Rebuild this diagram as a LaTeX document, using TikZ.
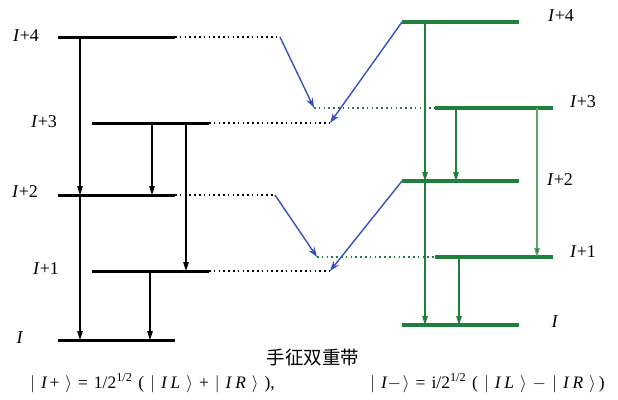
\documentclass[tikz,border=0pt]{standalone}
\usepackage{fontspec}
\setmainfont{Liberation Serif}
\newfontfamily\cjk{Noto Sans CJK SC}
\usetikzlibrary{arrows.meta}
\definecolor{lvgreen}{RGB}{30,128,60}
\definecolor{lvlight}{RGB}{100,160,110}
\definecolor{lvblue}{RGB}{55,80,190}
\newcommand\mygap{\hspace{6pt}}
\tikzset{
  x=1pt, y=-1pt,
  blev/.style={line width=3pt, black},
  glev/.style={line width=3.2pt, lvgreen},
  barr/.style={line width=1.1pt, black, -{Triangle[length=9pt,width=5.5pt]}},
  garr/.style={line width=1.1pt, lvgreen, -{Triangle[length=9pt,width=5.5pt]}},
  larr/.style={line width=1.1pt, lvlight, -{Triangle[length=9pt,width=5.5pt,fill=lvgreen]}},
  bdot/.style={line width=1.3pt, black, dash pattern=on 1.6pt off 3.2pt},
  gdot/.style={line width=1.3pt, lvgreen, dash pattern=on 1.6pt off 3.2pt},
  blue/.style={line width=1.4pt, lvblue, -{Stealth[length=10pt,width=7pt]}},
  lab/.style={font=\fontsize{18}{18}\selectfont, inner sep=0pt},
  frm/.style={font=\fontsize{17.5}{17.5}\selectfont, inner sep=0pt, anchor=west},
}
\begin{document}
\begin{tikzpicture}
\useasboundingbox (0,0) rectangle (618,399);
% left levels
\coordinate (A4l) at (58,37);  \coordinate (A4r) at (175,37);
\coordinate (A3l) at (92,123); \coordinate (A3r) at (209,123);
\coordinate (A2l) at (58,195); \coordinate (A2r) at (175,195);
\coordinate (A1l) at (92,271); \coordinate (A1r) at (209,271);
\coordinate (A0l) at (58,340); \coordinate (A0r) at (175,340);
% right levels
\coordinate (B4l) at (402,22);  \coordinate (B4r) at (519,22);
\coordinate (B3l) at (435,108); \coordinate (B3r) at (553,108);
\coordinate (B2l) at (402,181); \coordinate (B2r) at (519,181);
\coordinate (B1l) at (435,257); \coordinate (B1r) at (553,257);
\coordinate (B0l) at (402,325); \coordinate (B0r) at (519,325);
% dotted ends
\coordinate (D4) at (280,37);
\coordinate (D3) at (330,123);
\coordinate (D2) at (275,195);
\coordinate (D1) at (330,271);
\coordinate (E3) at (314,108);
\coordinate (E1) at (317,257);
% arrow columns
\coordinate (c1) at (80,0);
\coordinate (c2) at (152,0);
\coordinate (c3) at (186,0);
\coordinate (c4) at (150,0);
\coordinate (g1) at (425,0);
\coordinate (g2) at (456,0);
\coordinate (g3) at (537,0);
\coordinate (g4) at (459,0);

\draw[blev] (A4l) -- (A4r);
\draw[blev] (A3l) -- (A3r);
\draw[blev] (A2l) -- (A2r);
\draw[blev] (A1l) -- (A1r);
\draw[blev] (A0l) -- (A0r);
\draw[glev] (B4l) -- (B4r);
\draw[glev] (B3l) -- (B3r);
\draw[glev] (B2l) -- (B2r);
\draw[glev] (B1l) -- (B1r);
\draw[glev] (B0l) -- (B0r);

\draw[bdot] (A4r) -- (D4);
\draw[bdot] (A3r) -- (D3);
\draw[bdot] (A2r) -- (D2);
\draw[bdot] (A1r) -- (D1);
\draw[gdot] (E3) -- (B3l);
\draw[gdot] (E1) -- (B1l);

\draw[blue] (D4) -- (E3);
\draw[blue] (B4l) -- (D3);
\draw[blue] (D2) -- (E1);
\draw[blue] (B2l) -- (D1);

\draw[barr] (A4l -| c1) -- (A2l -| c1);
\draw[barr] (A2l -| c1) -- (A0l -| c1);
\draw[barr] (A3l -| c2) -- (A2l -| c2);
\draw[barr] (A3l -| c3) -- (A1l -| c3);
\draw[barr] (A1l -| c4) -- (A0l -| c4);

\draw[garr] (B4l -| g1) -- (B2l -| g1);
\draw[garr] (B2l -| g1) -- (B0l -| g1);
\draw[garr] (B3l -| g2) -- (B2l -| g2);
\draw[larr] (B3l -| g3) -- (B1l -| g3);
\draw[garr] (B1l -| g4) -- (B0l -| g4);

\node[lab] (l4) at (26,36) {\textit{I}+4};
\node[lab] (l3) at (44,122) {\textit{I}+3};
\node[lab] (l2) at (25,192) {\textit{I}+2};
\node[lab] (l1) at (46,269) {\textit{I}+1};
\node[lab] (l0) at (20,338) {\textit{I}};
\node[lab] (r4) at (561,16) {\textit{I}+4};
\node[lab] (r3) at (583,102) {\textit{I}+3};
\node[lab] (r2) at (560,180) {\textit{I}+2};
\node[lab] (r1) at (583,252) {\textit{I}+1};
\node[lab] (r0) at (555,322) {\textit{I}};

\node[font=\cjk\fontsize{18.5}{18.5}\selectfont, inner sep=0pt] (title) at (313,357) {手征双重带};
\node[frm] (fl) at (30,383) {$|$\mygap\textit{I}\hspace{2pt}+\mygap$\rangle$\mygap=\mygap1/2\textsuperscript{1/2}\mygap(\mygap$|$\mygap\textit{I}\hspace{3pt}\textit{L}\mygap$\rangle$\mygap+\mygap$|$\mygap\textit{I}\hspace{3pt}\textit{R}\mygap$\rangle$\mygap),};
\node[frm] (fr) at (370,383) {$|$\mygap\textit{I}$-$\hspace{2pt}$\rangle$\mygap=\mygap i/2\textsuperscript{1/2}\mygap(\mygap$|$\mygap\textit{I}\hspace{3pt}\textit{L}\mygap$\rangle$\mygap$-$\mygap$|$\mygap\textit{I}\hspace{3pt}\textit{R}\mygap$\rangle$\hspace{3pt})};
\end{tikzpicture}
\end{document}
